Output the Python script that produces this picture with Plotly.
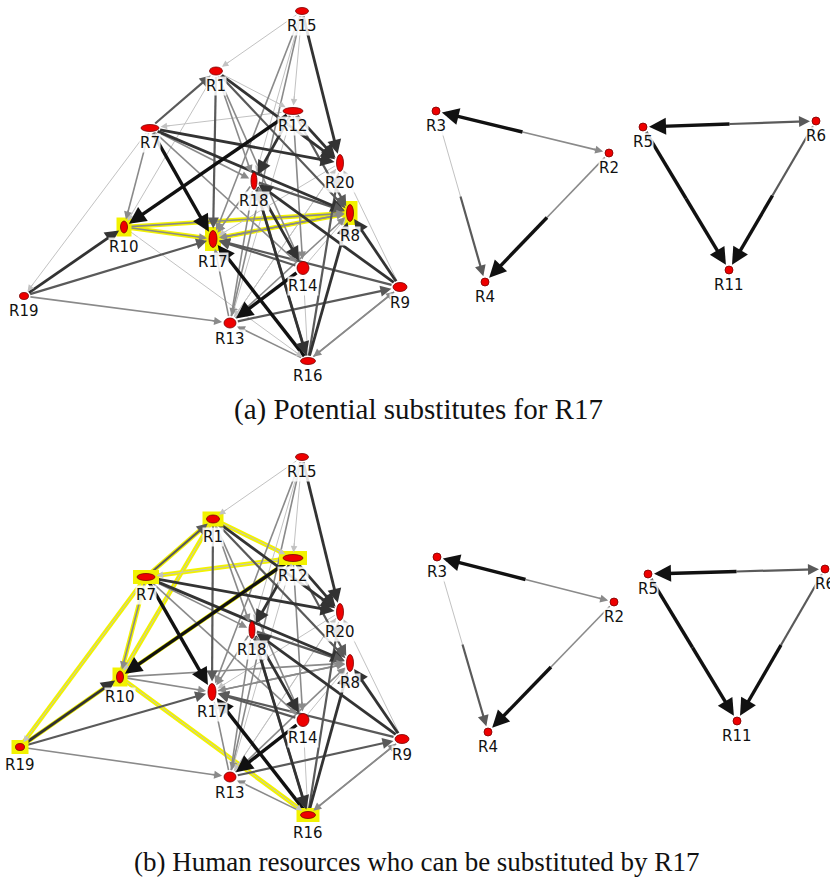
import math
import plotly.graph_objects as go

# ---------------------------------------------------------------- data
nodes = ["R1", "R2", "R3", "R4", "R5", "R6", "R7", "R8", "R9", "R10",
         "R11", "R12", "R13", "R14", "R15", "R16", "R17", "R18", "R19", "R20"]

# network layout coordinates, panel (a)
pos_a_x = [216, 609, 436, 485, 643, 816, 150, 350, 400, 124,
           729, 293, 230, 303, 302, 308, 213, 254, 24, 340]
pos_a_y = [71, 153, 111, 282, 127, 121, 128, 213, 287, 227,
           270, 111, 323, 268, 11, 361, 239, 181, 296, 163]

# network layout coordinates, panel (b)
pos_b_x = [213, 614, 437, 488, 648, 825, 146, 350, 402, 120,
           737, 293, 230, 303, 302, 308, 212, 252, 20, 340]
pos_b_y = [79, 162, 117, 292, 134, 129, 137, 223, 299, 237,
           281, 118, 337, 280, 17, 375, 252, 190, 307, 172]

# directed substitution links of the main group (source, target, strength 1..5)
edge_src = ["R15", "R15", "R15", "R15", "R15", "R15",
            "R7", "R1", "R1", "R1", "R1", "R1", "R1", "R1",
            "R7", "R7", "R7", "R7", "R7", "R7", "R12", "R7",
            "R12", "R12", "R12", "R12", "R12",
            "R20", "R20", "R16", "R9",
            "R18", "R18", "R18", "R18", "R14",
            "R8", "R10", "R17", "R10", "R14", "R13", "R9",
            "R9", "R9", "R16", "R9", "R13",
            "R14", "R14", "R16",
            "R16", "R16", "R16", "R16", "R10",
            "R13", "R13", "R13", "R13",
            "R19", "R19", "R19"]
edge_dst = ["R1", "R20", "R17", "R13", "R12", "R18",
            "R1", "R17", "R20", "R8", "R12", "R10", "R18", "R14",
            "R17", "R10", "R20", "R8", "R14", "R19", "R7", "R18",
            "R10", "R18", "R20", "R14", "R8",
            "R17", "R13", "R20", "R20",
            "R16", "R14", "R17", "R8", "R18",
            "R17", "R8", "R8", "R17", "R8", "R8", "R8",
            "R17", "R18", "R9", "R16", "R9",
            "R17", "R13", "R14",
            "R17", "R13", "R18", "R8", "R16",
            "R17", "R18", "R20", "R12",
            "R10", "R17", "R13"]
edge_strength = [1, 4, 2, 2, 1, 1,
                 3, 3, 4, 3, 1, 1, 2, 2,
                 5, 2, 4, 4, 2, 1, 1, 2,
                 5, 4, 4, 2, 3,
                 1, 1, 3, 1,
                 4, 4, 2, 3, 2,
                 2, 2, 2, 2, 1, 2, 4,
                 3, 4, 2, 2, 3,
                 3, 5, 1,
                 5, 2, 3, 4, 1,
                 2, 2, 1, 1,
                 4, 3, 2]

# links of the small groups: strength of the half next to each end, and
# whether that end carries an arrow head
pair_a = ["R3", "R3", "R2", "R5", "R5", "R6"]
pair_b = ["R2", "R4", "R4", "R6", "R11", "R11"]
pair_strength_a = [5, 1, 2, 5, 5, 3]
pair_head_a = [True, False, False, True, False, False]
pair_strength_b = [2, 3, 5, 3, 5, 5]
pair_head_b = [True, True, True, True, True, True]

# highlighted resources and links
hl_nodes_a = ["R10", "R17", "R8"]
hl_edges_a = [("R10", "R17"), ("R10", "R8"), ("R17", "R8")]
hl_nodes_b = ["R1", "R7", "R12", "R10", "R19", "R16"]
hl_edges_b = [("R19", "R7"), ("R19", "R10"), ("R7", "R10"), ("R1", "R10"),
              ("R7", "R1"), ("R1", "R12"), ("R7", "R12"), ("R12", "R10"),
              ("R10", "R16")]

caption_a = "(a) Potential substitutes for R17"
caption_b = "(b) Human resources who can be substituted by R17"

# ---------------------------------------------------------------- styles
# node ellipse sizes in pixels (width, height)
NODE_W = {"R1": 13, "R2": 8, "R3": 8, "R4": 8, "R5": 8, "R6": 8, "R7": 18,
          "R8": 7, "R9": 14, "R10": 7, "R11": 8, "R12": 20, "R13": 12,
          "R14": 12, "R15": 13, "R16": 15, "R17": 8, "R18": 6, "R19": 9, "R20": 7}
NODE_H = {"R1": 8, "R2": 8, "R3": 8, "R4": 8, "R5": 8, "R6": 8, "R7": 7,
          "R8": 17, "R9": 9, "R10": 12, "R11": 8, "R12": 7, "R13": 10,
          "R14": 13, "R15": 7, "R16": 7, "R17": 17, "R18": 17, "R19": 7, "R20": 17}
STRENGTH_STYLE = {1: ("#c2c2c2", 1.0), 2: ("#8a8a8a", 1.6), 3: ("#5a5a5a", 2.2),
                  4: ("#333333", 2.8), 5: ("#111111", 3.4)}
YELLOW = "#f2f200"
NODE_RED = "#ee0000"
LABEL_FONT = dict(family="DejaVu Sans", size=15, color="#111111")
CAPTION_FONT_A = dict(family="Liberation Serif", size=29, color="#111111")
CAPTION_FONT_B = dict(family="Liberation Serif", size=27, color="#111111")
HEAD_LEN = 11  # length of the short arrow used to place each head

W, H = 830, 884
SPLIT = 440  # pixel row where panel (b) starts

fig = go.Figure()
fig.update_layout(
    width=W, height=H, margin=dict(l=0, r=0, t=0, b=0),
    paper_bgcolor="white", plot_bgcolor="white", showlegend=False,
    xaxis=dict(domain=[0, 1], range=[0, W], visible=False, fixedrange=True),
    yaxis=dict(domain=[1 - SPLIT / H, 1], range=[SPLIT, 0], visible=False, fixedrange=True),
    xaxis2=dict(domain=[0, 1], range=[0, W], visible=False, anchor="y2", fixedrange=True),
    yaxis2=dict(domain=[0, 1 - SPLIT / H], range=[H - SPLIT, 0], visible=False,
                anchor="x2", fixedrange=True),
)

annotations = []
shapes = []


def ell_radius(name, ux, uy):
    rx, ry = NODE_W[name] / 2.0, NODE_H[name] / 2.0
    return 1.0 / math.sqrt((ux / rx) ** 2 + (uy / ry) ** 2)


def draw_panel(px, py, xr, yr, hl_nodes, hl_edges):
    P = {n: (px[i], py[i]) for i, n in enumerate(nodes)}
    # line segments collected per strength level
    seg = {k: ([], []) for k in STRENGTH_STYLE}
    heads = []

    def add_segment(x0, y0, x1, y1, k, head, tip_gap):
        d = math.hypot(x1 - x0, y1 - y0)
        ux, uy = (x1 - x0) / d, (y1 - y0) / d
        # tip of the head stops at the node outline
        tx, ty = x1 - ux * tip_gap, y1 - uy * tip_gap
        end = 5 if head else 0
        seg[k][0].extend([x0, tx - ux * end, None])
        seg[k][1].extend([y0, ty - uy * end, None])
        if head:
            heads.append((tx, ty, tx - ux * HEAD_LEN, ty - uy * HEAD_LEN, k))

    # main-group links
    for s, t, k in zip(edge_src, edge_dst, edge_strength):
        (xs, ys), (xt, yt) = P[s], P[t]
        d = math.hypot(xt - xs, yt - ys)
        ux, uy = (xt - xs) / d, (yt - ys) / d
        rs = ell_radius(s, ux, uy) + 2
        add_segment(xs + ux * rs, ys + uy * rs, xt, yt, k, True,
                    ell_radius(t, ux, uy) + 2)

    # small-group links, each half styled on its own
    for a, b, ka, ha, kb, hb in zip(pair_a, pair_b, pair_strength_a, pair_head_a,
                                    pair_strength_b, pair_head_b):
        (xa, ya), (xb, yb) = P[a], P[b]
        mx, my = (xa + xb) / 2.0, (ya + yb) / 2.0
        for end, k, head in ((a, ka, ha), (b, kb, hb)):
            xe, ye = P[end]
            d = math.hypot(xe - mx, ye - my)
            ux, uy = (xe - mx) / d, (ye - my) / d
            add_segment(mx, my, xe, ye, k, head, ell_radius(end, ux, uy) + 2)

    # yellow highlight bands under the links
    for a, b in hl_edges:
        fig.add_trace(go.Scatter(
            x=[P[a][0], P[b][0]], y=[P[a][1], P[b][1]], mode="lines",
            line=dict(color=YELLOW, width=4.5), hoverinfo="skip",
            xaxis=xr, yaxis=yr))

    for k in sorted(seg):
        col, wid = STRENGTH_STYLE[k]
        fig.add_trace(go.Scatter(
            x=seg[k][0], y=seg[k][1], mode="lines",
            line=dict(color=col, width=wid), hoverinfo="skip",
            xaxis=xr, yaxis=yr))

    for hx, hy, bx, by, k in heads:
        col, wid = STRENGTH_STYLE[k]
        annotations.append(dict(
            x=hx, y=hy, ax=bx, ay=by, xref=xr, yref=yr, axref=xr, ayref=yr,
            text="", showarrow=True, arrowhead=2, arrowsize=1.0 if wid > 1.5 else 1.3,
            arrowwidth=wid, arrowcolor=col, standoff=0))

    # nodes
    for n in nodes:
        x, y = P[n]
        w, h = NODE_W[n], NODE_H[n]
        if n in hl_nodes:
            shapes.append(dict(type="rect", xref=xr, yref=yr, layer="above",
                               x0=x - w / 2 - 4, x1=x + w / 2 + 4,
                               y0=y - h / 2 - 3.5, y1=y + h / 2 + 3.5,
                               fillcolor=YELLOW, line=dict(width=0)))
        shapes.append(dict(type="circle", xref=xr, yref=yr, layer="above",
                           x0=x - w / 2, x1=x + w / 2, y0=y - h / 2, y1=y + h / 2,
                           fillcolor=NODE_RED, line=dict(color="#7a0000", width=0.8)))
        extra = 3 if n in hl_nodes else 0
        annotations.append(dict(
            x=x, y=y + h / 2 + 11 + extra, xref=xr, yref=yr, text=n,
            showarrow=False, font=LABEL_FONT, bgcolor="rgba(255,255,255,0.85)",
            borderpad=0, xanchor="center", yanchor="middle"))


draw_panel(pos_a_x, pos_a_y, "x", "y", hl_nodes_a, hl_edges_a)
draw_panel(pos_b_x, pos_b_y, "x2", "y2", hl_nodes_b, hl_edges_b)

annotations.append(dict(x=0.504, y=1 - 409 / H, xref="paper", yref="paper",
                        text=caption_a, showarrow=False, font=CAPTION_FONT_A,
                        xanchor="center", yanchor="middle"))
annotations.append(dict(x=0.502, y=1 - 862 / H, xref="paper", yref="paper",
                        text=caption_b, showarrow=False, font=CAPTION_FONT_B,
                        xanchor="center", yanchor="middle"))

fig.update_layout(annotations=annotations, shapes=shapes)
fig.write_html("out.html")
